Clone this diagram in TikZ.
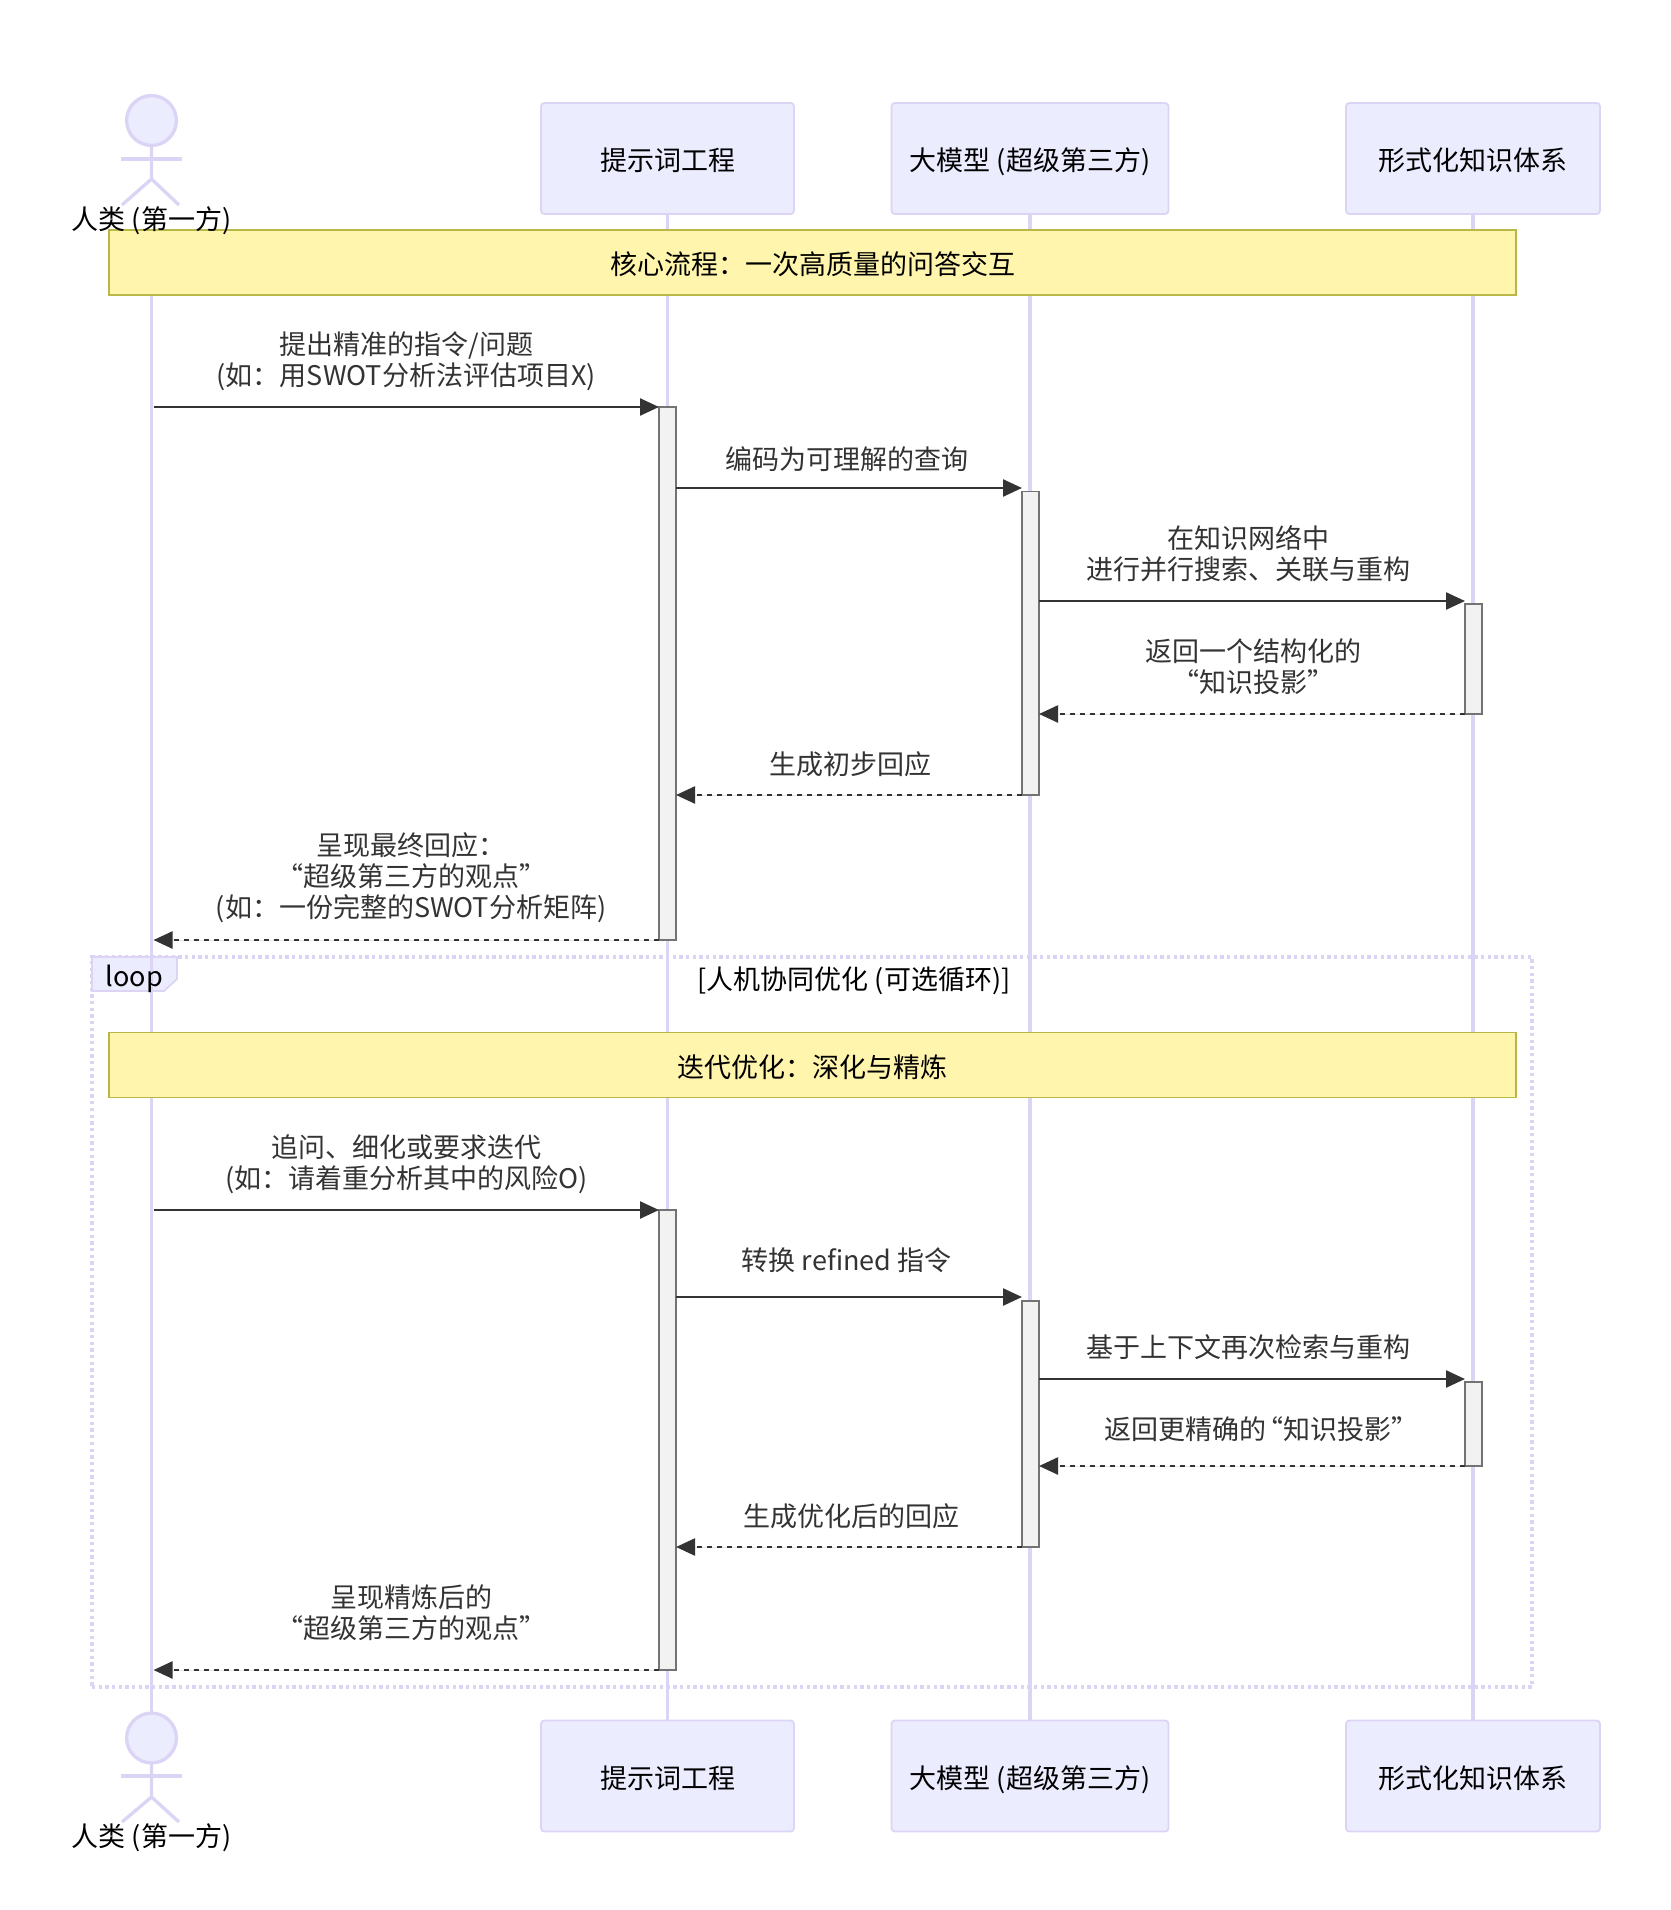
\documentclass[tikz,border=0pt]{standalone}
\usepackage{fontspec}
\setmainfont{Noto Sans CJK SC}
\usepackage{tikz}
\usetikzlibrary{arrows.meta, positioning}
\definecolor{lifeline}{HTML}{DCD4F4}
\definecolor{actorfill}{HTML}{ECECFF}
\definecolor{notefill}{HTML}{FFF5AD}
\definecolor{noteline}{HTML}{B8B848}
\definecolor{msgcolor}{HTML}{333333}
\tikzstyle{every node}=[font=\fontsize{13.5pt}{15.5pt}\selectfont]

\begin{document}
\begin{tikzpicture}[
            x=0.5pt, y=-0.5pt,
            box text/.style={text height=13.7pt, text depth=1.5pt, inner sep=0pt, outer sep=0pt},
            head node/.style={circle, draw=lifeline, fill=actorfill, line width=1.67pt, minimum size=24.9pt, inner sep=0pt, outer sep=0pt},
            stick line/.style={draw=lifeline, line width=1.67pt},
            actor text/.style={box text, text=black},
            part box/.style={rectangle, box text, rounded corners=1.7pt, draw=lifeline, fill=actorfill, line width=0.9pt, minimum height=55.5pt},
            life line/.style={draw=lifeline, line width=1.6pt},
            note box/.style={rectangle, box text, draw=noteline, fill=notefill, line width=0.9pt, minimum width=703.5pt, minimum height=32.5pt},
            act box/.style={rectangle, draw=black!55, fill=black!5, line width=0.8pt, minimum width=8.5pt, inner sep=0pt, outer sep=0pt, anchor=north},
            call arrow/.style={-{Triangle[length=9.5pt, width=8.5pt]}, draw=msgcolor, fill=msgcolor, line width=1.2pt},
            back arrow/.style={call arrow, dash pattern=on 2.5pt off 2.5pt},
            msg text/.style={above=8.1pt, inner sep=0pt, align=center, text=msgcolor, text depth=2pt},
            loop frame/.style={rectangle, draw=lifeline, line width=1.67pt, dash pattern=on 1.67pt off 1.67pt, minimum width=720pt, minimum height=365pt, inner sep=0pt, outer sep=0pt}
        ]
            \useasboundingbox (0,0) rectangle (1670,1910);

            % --- Top participants ---
            \node[head node] (humanhead) at (151.5,120.5) {};
            \coordinate (humanstart) at (151.5,232);
            \node[part box, minimum width=126.5pt] (prompt) at (667.5,158.5) {提示词工程};
            \node[part box, minimum width=138.5pt] (model) at (1030,158.5) {大模型 (超级第三方)};
            \node[part box, minimum width=127pt] (know) at (1473,158.5) {形式化知识体系};

            % --- Bottom participants ---
            \node[head node] (humanheadb) at (151.5,1738) {};
            \node[actor text] (humanb) at (151.5,1834.5) {人类 (第一方)};
            \node[part box, minimum width=126.5pt] (promptb) at (667.5,1776) {提示词工程};
            \node[part box, minimum width=138.5pt] (modelb) at (1030,1776) {大模型 (超级第三方)};
            \node[part box, minimum width=127pt] (knowb) at (1473,1776) {形式化知识体系};

            % --- Stick figures ---
            \draw[stick line] (humanhead.south) -- (151.5,179) -- (122,205);
            \draw[stick line] (151.5,179) -- (179,205);
            \draw[stick line] (121,159) -- (182,159);
            \draw[stick line] (humanheadb.south) -- (151.5,1797) -- (122,1822);
            \draw[stick line] (151.5,1797) -- (179,1822);
            \draw[stick line] (121,1776) -- (182,1776);

            % --- Loop frame ---
            \node[loop frame] (loopbox) at (812,1322) {};
            \draw[draw=lifeline, fill=actorfill, line width=0.9pt] (loopbox.north west) -- (177,957) -- (177,979) -- (164,991) -- (92,991) -- cycle;

            % --- Lifelines ---
            \draw[life line] (humanstart) -- (humanheadb.north);
            \draw[life line] (prompt.south) -- (promptb.north);
            \draw[life line] (model.south) -- (modelb.north);
            \draw[life line] (know.south) -- (knowb.north);
            \node[box text] (looplabel) at (134.5,974) {loop};
            \node[box text] (looptitle) at (854,977) {[人机协同优化 (可选循环)]};

            % --- Notes ---
            \node[note box] (note1) at (812.5,262.5) {核心流程：一次高质量的问答交互};
            \node[note box] (note2) at (812.5,1065) {迭代优化：深化与精炼};
            \node[actor text] (human) at (151.5,217.5) {人类 (第一方)};

            % --- Activations ---
            \node[act box, minimum height=266.5pt] (act1) at (667.5,407) {};
            \node[act box, minimum height=151.75pt] (act2) at (1030.5,491.5) {};
            \node[act box, minimum height=55pt] (act3) at (1473.5,604) {};
            \node[act box, minimum height=230pt] (act4) at (667.5,1210) {};
            \node[act box, minimum height=123pt] (act5) at (1030.5,1301) {};
            \node[act box, minimum height=42pt] (act6) at (1473.5,1382) {};

            % --- Message rows ---
            \coordinate (humanlife) at (153.5,0);
            \coordinate (m2) at (0,488);
            \coordinate (m3) at (0,601);
            \coordinate (m8) at (0,1297);
            \coordinate (m9) at (0,1379);

            % --- First round ---
            \draw[call arrow] (humanlife |- act1.north) -- node[msg text] {提出精准的指令/问题\\(如：用SWOT分析法评估项目X)} (act1.north west);
            \draw[call arrow] (act1.east |- m2) -- node[msg text, above=6.8pt, xshift=-1.2pt] {编码为可理解的查询} (act2.west |- m2);
            \draw[call arrow] (act2.east |- m3) -- node[msg text, xshift=-1.8pt] {在知识网络中\\进行并行搜索、关联与重构} (act3.west |- m3);
            \draw[back arrow] (act3.south west) -- node[msg text, xshift=0.9pt] {返回一个结构化的\\“知识投影”} (act2.east |- act3.south);
            \draw[back arrow] (act2.south west) -- node[msg text, above=7.5pt, xshift=0.8pt] {生成初步回应} (act1.east |- act2.south);
            \draw[back arrow] (act1.south west) -- node[msg text, above=8.7pt, xshift=2.4pt] {呈现最终回应：\\“超级第三方的观点”\\(如：一份完整的SWOT分析矩阵)} (humanlife |- act1.south);

            % --- Second round ---
            \draw[call arrow] (humanlife |- act4.north) -- node[msg text] {追问、细化或要求迭代\\(如：请着重分析其中的风险O)} (act4.north west);
            \draw[call arrow] (act4.east |- m8) -- node[msg text, above=10.9pt, xshift=-1.2pt] {转换 refined 指令} (act5.west |- m8);
            \draw[call arrow] (act5.east |- m9) -- node[msg text, xshift=-1.8pt] {基于上下文再次检索与重构} (act6.west |- m9);
            \draw[back arrow] (act6.south west) -- node[msg text, above=10.6pt, xshift=4.9pt] {返回更精确的\kern-5pt“知识投影”} (act5.east |- act6.south);
            \draw[back arrow] (act5.south west) -- node[msg text, above=7.5pt, xshift=1.2pt] {生成优化后的回应} (act4.east |- act5.south);
            \draw[back arrow] (act4.south west) -- node[msg text, above=13pt, xshift=2.4pt] {呈现精炼后的\\“超级第三方的观点”} (humanlife |- act4.south);

        \end{tikzpicture}
\end{document}
